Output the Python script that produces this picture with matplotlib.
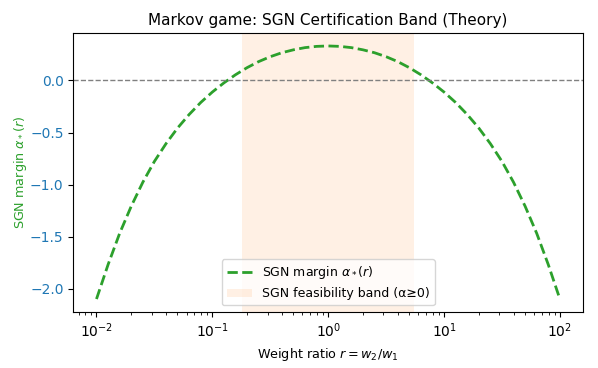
from matplotlib import pyplot as plt
import numpy as np

# log10 of the weight ratio r = w2/w1, and the margin
log_r = [-2.0, -1.9, -1.8, -1.7, -1.6, -1.5, -1.4, -1.3, -1.2, -1.1, -1.0,
         -0.9, -0.8, -0.7, -0.6, -0.5, -0.4, -0.3, -0.2, -0.1, 0.0,
         0.1, 0.2, 0.3, 0.4, 0.5, 0.6, 0.7, 0.8, 0.9, 1.0,
         1.1, 1.2, 1.3, 1.4, 1.5, 1.6, 1.7, 1.8, 1.9, 2.0]
alpha = [-2.097, -1.767, -1.467, -1.207, -0.977, -0.777, -0.607, -0.457, -0.327, -0.212, -0.112,
         -0.024, 0.054, 0.122, 0.180, 0.227, 0.265, 0.293, 0.314, 0.326, 0.330,
         0.326, 0.314, 0.293, 0.265, 0.227, 0.180, 0.122, 0.054, -0.024, -0.112,
         -0.212, -0.327, -0.457, -0.607, -0.777, -0.977, -1.207, -1.467, -1.767, -2.097]

# feasibility band limits (r values)
band_lo = 0.182
band_hi = 5.5

r = 10.0 ** np.array(log_r)

fig, ax = plt.subplots(figsize=(5.98, 3.68), dpi=100)
fig.subplots_adjust(left=0.1226, right=0.975, bottom=0.153, top=0.9095)

ax.axvspan(band_lo, band_hi, color='tab:orange', alpha=0.11, lw=0,
           label='SGN feasibility band (α≥0)')
ax.plot(r, alpha, color='tab:green', linestyle='--', linewidth=2,
        label=r'SGN margin $\alpha_*(r)$')
ax.axhline(0, color='gray', linestyle='--', linewidth=1)

ax.set_xscale('log')
ax.set_xlabel(r'Weight ratio $r = w_2/w_1$', fontsize=9.2)
ax.set_ylabel(r'SGN margin $\alpha_*(r)$', color='tab:green', fontsize=9.2, labelpad=1)
ax.tick_params(axis='y', labelcolor='tab:blue')
ax.set_title('Markov game: SGN Certification Band (Theory)', fontsize=11)

# legend order: line first, then band
handles, labels = ax.get_legend_handles_labels()
ax.legend([handles[1], handles[0]], [labels[1], labels[0]], loc='lower center', fontsize=9)

plt.savefig('out.png')
